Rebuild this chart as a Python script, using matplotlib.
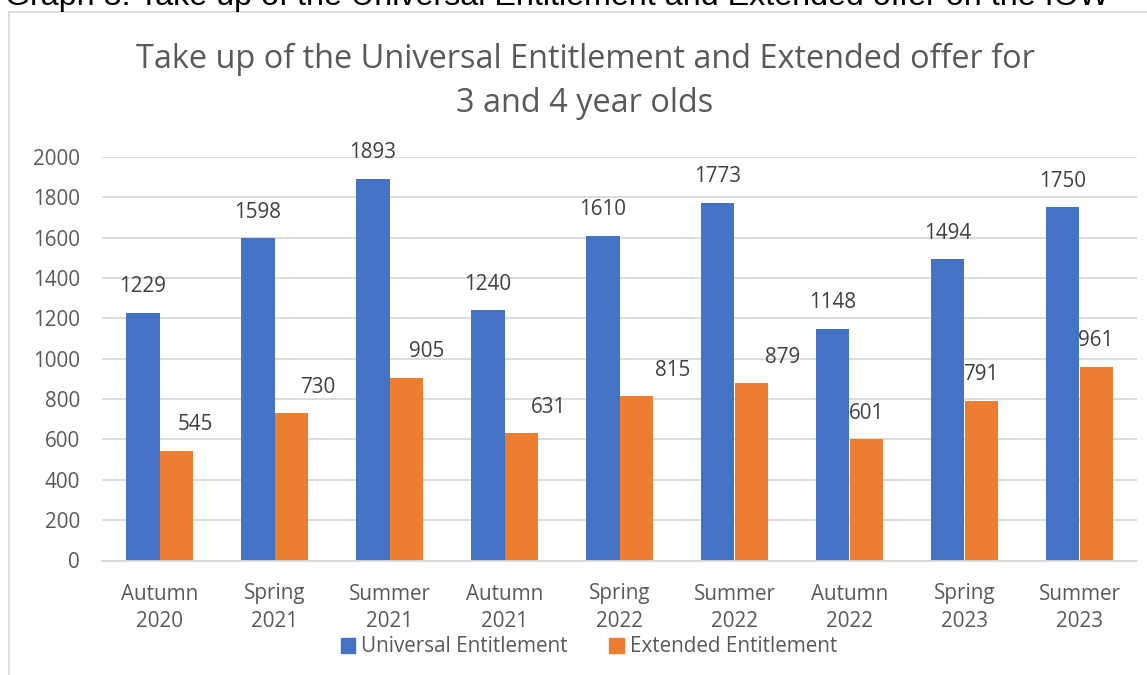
import numpy as np
import matplotlib
matplotlib.use("Agg")
import matplotlib.pyplot as plt
from matplotlib.patches import Patch, Rectangle

# data
terms = ["Autumn\n2020", "Spring\n2021", "Summer\n2021", "Autumn\n2021", "Spring\n2022",
         "Summer\n2022", "Autumn\n2022", "Spring\n2023", "Summer\n2023"]
universal = [1229, 1598, 1893, 1240, 1610, 1773, 1148, 1494, 1750]
extended = [545, 730, 905, 631, 815, 879, 601, 791, 961]
series_names = ["Universal Entitlement", "Extended Entitlement"]
y_ticks = list(range(0, 2001, 200))

# label nudges for the orange labels (pixels to the right), as placed in the original
ext_nudge_px = [19, 27, 21, 27, 37, 32, 0, 0, 0]

BLUE = "#4472C4"
ORANGE = "#ED7D31"
GRID = "#D9D9D9"
TXT = "#595959"
LBL = "#404040"
FONT = "Open Sans"
FS = 14.9
W, H = 1147, 675
PT = 72 / 100  # points per pixel at dpi 100

fig = plt.figure(figsize=(W / 100, H / 100), dpi=100)
fig.patch.set_facecolor("white")

# caption above the chart, cut by the top edge as in the original
fig.text(5 / W, 1 - 5 / H, "Graph 3: Take up of the Universal Entitlement and Extended offer on the IOW",
         ha="left", va="baseline", fontsize=23.2, family="Liberation Sans", color="black")

# chart border
fig.patches.append(Rectangle((9 / W, -0.2), 1.2, 1.2 - 11.7 / H,
                             transform=fig.transFigure, fill=False, edgecolor=GRID, lw=1.2))

ax = fig.add_axes([102 / W, (H - 560.5) / H, 1035 / W, 403.5 / H])
x = np.arange(len(terms))
bw = 0.287
ax.bar(x - bw / 2, universal, bw, color=BLUE, zorder=3)
ax.bar(x + bw / 2, extended, bw, color=ORANGE, zorder=3)

ax.set_xlim(-0.5, len(terms) - 0.5)
ax.set_ylim(0, 2000)
ax.set_yticks(y_ticks)
ax.set_xticks(x)
ax.set_xticklabels(terms, linespacing=1.42)
ax.tick_params(axis="both", length=0, labelsize=FS, labelcolor=TXT)
ax.tick_params(axis="y", pad=22 * PT)
ax.tick_params(axis="x", pad=23 * PT)
for lab in ax.get_xticklabels() + ax.get_yticklabels():
    lab.set_family(FONT)
ax.grid(axis="y", color=GRID, lw=1.3, zorder=0)
for s in ["top", "right", "left"]:
    ax.spines[s].set_visible(False)
ax.spines["bottom"].set_color(GRID)
ax.spines["bottom"].set_linewidth(1.3)
ax.spines["bottom"].set_zorder(4)

for i in range(len(terms)):
    ax.annotate(str(universal[i]), (x[i] - bw / 2, universal[i]), xytext=(0, 26 * PT),
                textcoords="offset points", ha="center", va="center",
                fontsize=FS, color=LBL, family=FONT)
    ax.annotate(str(extended[i]), (x[i] + bw / 2, extended[i]),
                xytext=(ext_nudge_px[i] * PT, 26 * PT),
                textcoords="offset points", ha="center", va="center",
                fontsize=FS, color=LBL, family=FONT)

fig.text(585 / W, 1 - 81.5 / H, "Take up of the Universal Entitlement and Extended offer for\n3 and 4 year olds",
         ha="center", va="center", fontsize=23.4, color=TXT, family=FONT, linespacing=1.45)

handles = [Patch(color=BLUE), Patch(color=ORANGE)]
fig.legend(handles, series_names, loc="center", bbox_to_anchor=(589 / W, 1 - 647 / H),
           ncol=2, frameon=False, prop={"family": FONT, "size": FS},
           handlelength=0.7, handleheight=0.7, handletextpad=0.3,
           columnspacing=2.0, labelcolor=TXT, borderpad=0)

fig.savefig("out.png", dpi=100, facecolor="white")
